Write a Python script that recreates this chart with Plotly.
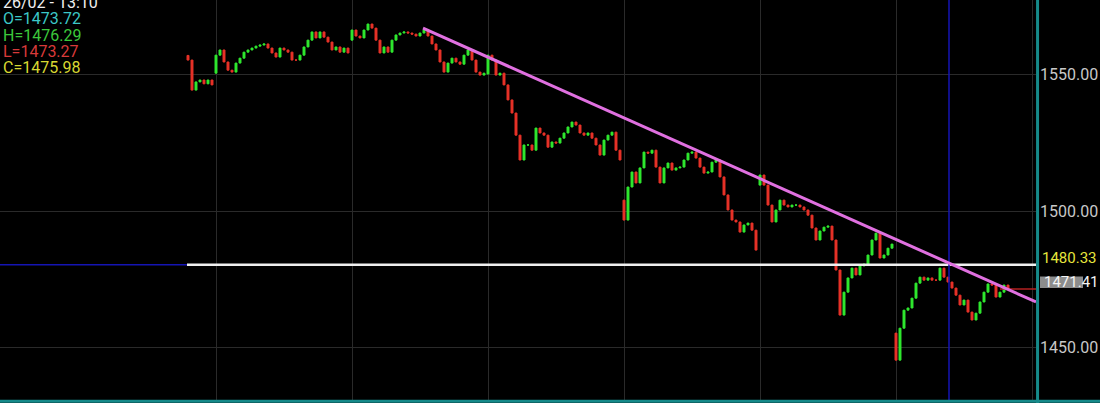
import plotly.graph_objects as go

# ---- data ----
closes_day0 = [1555.3, 1544.3, 1547.3, 1548.0, 1546.6, 1548.0, 1546.2]
closes_day1 = [1557.1, 1559.0, 1554.6, 1551.6, 1550.9, 1554.2, 1556.0, 1558.2, 1559.0, 1559.7,
               1560.4, 1560.8, 1561.2, 1559.7, 1557.9, 1556.4, 1559.7, 1559.0, 1558.2, 1555.3,
               1555.3, 1557.1, 1560.1, 1562.6, 1565.6, 1563.4, 1565.6, 1563.7, 1561.9, 1559.0,
               1560.1, 1558.2, 1559.7, 1557.9]
closes_day2 = [1566.3, 1564.1, 1563.4, 1566.3, 1568.5, 1567.0, 1562.6, 1557.9, 1560.1, 1558.2,
               1562.6, 1564.5, 1565.2, 1565.6, 1565.2, 1564.8, 1564.1, 1565.2, 1566.3, 1564.1,
               1561.2, 1559.0, 1554.6, 1550.9, 1554.2, 1556.0, 1554.6, 1553.8, 1557.1, 1559.0,
               1555.3, 1550.9, 1549.8, 1550.5]
closes_day3 = [1557.1, 1555.3, 1549.8, 1550.5, 1546.2, 1540.7, 1535.9, 1527.8, 1518.7, 1524.2,
               1524.2, 1522.3, 1530.4, 1528.6, 1527.8, 1523.4, 1525.3, 1524.9, 1526.7, 1528.6,
               1530.8, 1532.6, 1531.5, 1528.6, 1527.8, 1528.6, 1526.7, 1524.2, 1520.5, 1526.0,
               1527.8, 1528.9, 1522.3, 1518.7]
closes_day4 = [1496.7, 1508.8, 1514.3, 1510.3, 1515.8, 1521.6, 1521.2, 1522.3, 1516.1, 1510.3,
               1515.8, 1517.6, 1515.0, 1515.8, 1516.1, 1518.7, 1521.2, 1521.6, 1519.4, 1516.1,
               1513.9, 1514.3, 1517.9, 1518.7, 1512.5, 1505.9, 1500.4, 1496.7, 1496.0, 1492.3,
               1494.9, 1495.6, 1493.0, 1485.7]
closes_day5 = [1513.2, 1509.5, 1502.2, 1496.0, 1500.4, 1504.0, 1502.2, 1501.5, 1502.2, 1502.2,
               1501.5, 1500.4, 1498.5, 1493.8, 1489.4, 1492.7, 1494.1, 1494.5, 1489.4, 1478.4,
               1461.9, 1470.3, 1475.5, 1479.1, 1476.6, 1479.9, 1480.6, 1483.9, 1489.4, 1491.9,
               1482.8, 1483.9, 1486.4, 1487.9]
closes_day6 = [1445.4, 1457.1, 1463.7, 1464.5, 1468.1, 1473.6, 1475.8, 1474.7, 1475.5, 1474.7,
               1474.7, 1479.1, 1475.8, 1474.0, 1471.8, 1469.2, 1465.6, 1467.4, 1463.0, 1460.1,
               1462.6, 1466.7, 1470.3, 1473.3, 1472.9, 1468.5, 1470.3, 1472.9, 1471.4]
session_opens = [1557.0, 1550.5, 1562.6, 1550.2, 1504.0, 1509.5, 1455.3]

ohlc_labels = ["O=1473.72", "H=1476.29", "L=1473.27", "C=1475.98"]
ohlc_colors = ["#3cc8c8", "#3cc83c", "#d83a3a", "#d8d832"]
header_label = "26/02 - 13:10"

y_ticks = [1450, 1500, 1550]
level_price = 1480.33
last_price = 1471.41
trend_start = (58.75, 1567.0)
trend_end = (212.0, 1466.7)
cursor_index = 190.25

# ---- build candles ----
days = [closes_day0, closes_day1, closes_day2, closes_day3, closes_day4, closes_day5, closes_day6]
opens, closes, highs, lows, xs = [], [], [], [], []
session_starts = []
idx = 0
for d, day in enumerate(days):
    session_starts.append(idx)
    prev = session_opens[d]
    for c in day:
        o = prev
        opens.append(o)
        closes.append(c)
        highs.append(max(o, c))
        lows.append(min(o, c))
        xs.append(idx)
        prev = c
        idx += 1
session_starts.append(idx + 5)

x_lo, x_hi = -47, 212
y_lo, y_hi = 1430.8, 1577.3

fig = go.Figure()
fig.add_trace(go.Candlestick(
    x=xs, open=opens, high=highs, low=lows, close=closes,
    increasing=dict(line=dict(color="#2fe82f", width=1), fillcolor="#2fe82f"),
    decreasing=dict(line=dict(color="#e83228", width=1), fillcolor="#e83228"),
    whiskerwidth=0, hoverinfo="skip", showlegend=False,
))

shapes = []
shapes.append(dict(type="line", xref="x", yref="y", x0=x_lo, x1=-0.25, y0=level_price, y1=level_price,
                   line=dict(color="#1414b4", width=1.5)))
shapes.append(dict(type="line", xref="x", yref="y", x0=-0.25, x1=x_hi, y0=level_price, y1=level_price,
                   line=dict(color="#f0f0f0", width=2.5)))
shapes.append(dict(type="line", xref="x", yref="paper", x0=cursor_index, x1=cursor_index, y0=0, y1=1,
                   line=dict(color="#1414b4", width=1.5)))
shapes.append(dict(type="line", xref="x", yref="y", x0=203, x1=x_hi, y0=last_price, y1=last_price,
                   line=dict(color="#b42020", width=1.5)))
shapes.append(dict(type="line", xref="x", yref="y", x0=trend_start[0], y0=trend_start[1],
                   x1=trend_end[0], y1=trend_end[1], line=dict(color="#e070e0", width=3)))
shapes.append(dict(type="line", xref="paper", yref="paper", x0=1.0015, x1=1.0015, y0=-0.01, y1=1.01,
                   line=dict(color="#168a8a", width=3)))
shapes.append(dict(type="line", xref="paper", yref="paper", x0=0, x1=1.07, y0=-0.003, y1=-0.003,
                   line=dict(color="#168a8a", width=3)))
shapes.append(dict(type="rect", xref="paper", yref="y", x0=1040 / 1036, x1=1083 / 1036,
                   y0=last_price + 0.4, y1=last_price + 4.6, fillcolor="#8c8c8c", line=dict(width=0),
                   layer="above"))

annotations = []
annotations.append(dict(text=header_label, xref="paper", yref="paper", x=0.001, y=(400 - 3) / 400,
                        xanchor="left", yanchor="middle", showarrow=False,
                        font=dict(family="Roboto", size=16, color="#f0f0f0")))
for k, (t, col) in enumerate(zip(ohlc_labels, ohlc_colors)):
    ypix = 19 + k * 16.2
    annotations.append(dict(text=t, xref="paper", yref="paper", x=0.001, y=(400 - ypix) / 400,
                            xanchor="left", yanchor="middle", showarrow=False,
                            font=dict(family="Roboto", size=16, color=col)))
annotations.append(dict(text=f"{level_price:.2f}", xref="paper", yref="y", x=1040 / 1036, y=level_price,
                        xanchor="left", yanchor="middle", yshift=7, showarrow=False,
                        font=dict(family="Roboto", size=15, color="#e6e63c")))
annotations.append(dict(text=f"{last_price:.2f}", xref="paper", yref="y", x=1042 / 1036, y=last_price,
                        xanchor="left", yanchor="middle", yshift=7, showarrow=False,
                        font=dict(family="Roboto", size=15, color="#f4f4f4")))

fig.update_layout(
    width=1100, height=403,
    margin=dict(l=0, r=64, t=0, b=3, autoexpand=False),
    paper_bgcolor="#000000", plot_bgcolor="#000000",
    shapes=shapes, annotations=annotations,
    xaxis=dict(range=[x_lo, x_hi], rangeslider=dict(visible=False), showticklabels=False,
               tickvals=session_starts[1:], showgrid=True, gridcolor="#2a2a2a", gridwidth=1,
               zeroline=False, showline=False, fixedrange=True, automargin=False),
    yaxis=dict(range=[y_lo, y_hi], side="right", tickvals=y_ticks, tickformat=".2f",
               showgrid=True, gridcolor="#2a2a2a", gridwidth=1, zeroline=False, showline=False,
               ticks="", tickfont=dict(family="Roboto", size=16, color="#c8c8c8"),
               ticklabelstandoff=3, fixedrange=True, automargin=False),
    hovermode=False,
)

fig.write_html("out.html", config={"displayModeBar": False},
               post_script="document.body.style.margin='0px';document.body.style.overflow='hidden';")
